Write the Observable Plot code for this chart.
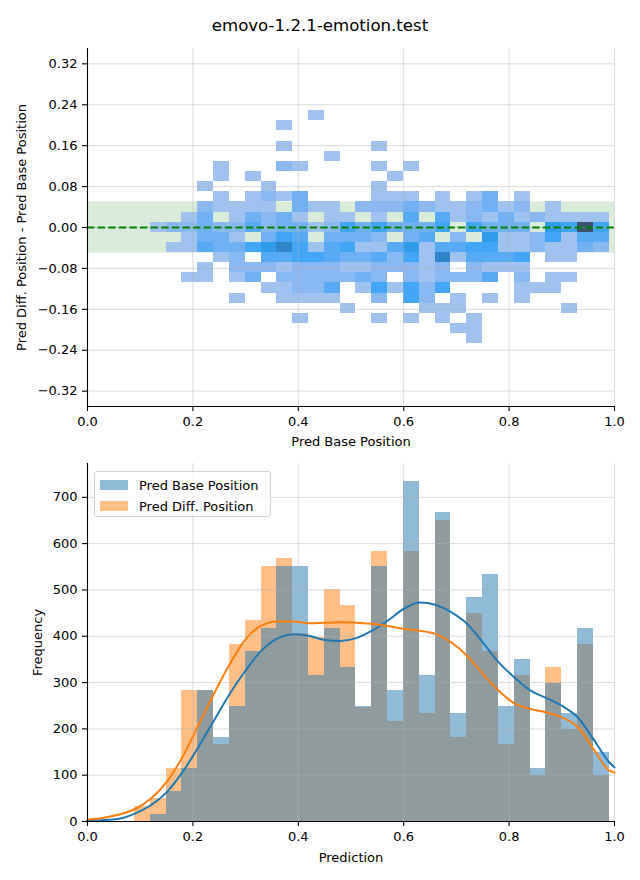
<!DOCTYPE html>
<html>
<head>
<meta charset="utf-8">
<script src="https://cdn.jsdelivr.net/npm/d3@7"></script>
<script src="https://cdn.jsdelivr.net/npm/@observablehq/plot@0.6"></script>
<style>
  body { margin: 0; background: #fff; font-family: "DejaVu Sans", sans-serif; }
  #wrap { position: relative; width: 640px; height: 880px; overflow: hidden; }
  #title { position: absolute; top: 16px; left: 0; width: 640px; text-align: center; font-size: 16.6px; line-height: 20px; color: #000; }
  .panel { position: absolute; left: 0; }
  #legend { position: absolute; left: 94px; top: 471px; width: 175px; height: 44px; border: 1px solid #d0d0d0; border-radius: 3px; background: rgba(255,255,255,0.8); font-size: 13px; color: #000; }
  .li { position: absolute; left: 5px; height: 14px; display: flex; align-items: center; white-space: nowrap; }
  .sw { width: 28px; height: 10px; margin-right: 11px; }
</style>
</head>
<body>
<div id="wrap">
  <div id="title">emovo-1.2.1-emotion.test</div>
  <div id="top" class="panel" style="top:0px"></div>
  <div id="bottom" class="panel" style="top:440px"></div>
  <div id="legend"></div>
</div>
<script>
// ---------------- DATA ----------------
const chartTitle = "emovo-1.2.1-emotion.test";
const seriesNames = ["Pred Base Position", "Pred Diff. Position"];
const seriesColors = ["#1f77b4", "#ff7f0e"];

// shared histogram bins (30 bins)
const binStart = 0.089;
const binWidth = 0.03003;
const nBins = 30;

// bottom panel: histogram counts per bin
const baseCounts = [0, 15, 65, 114, 283, 181, 248, 367, 417, 551, 551, 315, 417, 332, 248,
                    550, 283, 734, 315, 667, 233, 483, 533, 248, 350, 114, 299, 233, 417, 149];
const diffCounts = [32, 50, 114, 283, 283, 167, 383, 434, 551, 568, 405, 398, 501, 466, 247,
                    583, 216, 583, 233, 650, 182, 449, 367, 166, 315, 99, 332, 199, 383, 99];

// bottom panel: KDE curves (scaled to counts)
const kdeX    = [0, 0.03, 0.06, 0.09, 0.12, 0.15, 0.18, 0.21, 0.24, 0.27, 0.30, 0.33, 0.36, 0.39, 0.42, 0.45, 0.48, 0.51,
                 0.54, 0.57, 0.60, 0.63, 0.66, 0.69, 0.72, 0.75, 0.78, 0.81, 0.84, 0.87, 0.90, 0.93, 0.96, 0.99, 1.0];
const kdeBase = [2, 3, 6, 17, 35, 63, 106, 160, 218, 276, 326, 369, 395, 404, 401, 392, 390, 396,
                 412, 434, 459, 473, 468, 452, 427, 387, 344, 311, 283, 267, 250, 225, 178, 128, 117];
const kdeDiff = [4, 8, 15, 27, 49, 85, 139, 207, 276, 340, 394, 423, 432, 432, 428, 429, 430, 429,
                 427, 422, 416, 412, 405, 387, 358, 319, 283, 255, 243, 236, 225, 204, 157, 110, 106];

// top panel: 2D histogram cells [x bin index, y bin index, count]
const yBinOrigin = -0.0093;  // lower edge of y bin 0
const yBinWidth = 0.0198;
const heatCells = [
  [11,11,5],
  [9,10,5],
  [9,8,5],[15,8,5],
  [12,7,5],
  [5,6,5],[9,6,10],[10,6,5],[15,6,5],[17,6,5],
  [5,5,5],[7,5,5],[16,5,5],
  [4,4,5],[8,4,5],[15,4,5],
  [5,3,5],[7,3,5],[8,3,10],[9,3,5],[10,3,16],[15,3,5],[16,3,5],[17,3,5],[19,3,5],[21,3,5],[22,3,16],[24,3,5],
  [4,2,10],[5,2,5],[6,2,5],[7,2,5],[8,2,5],[10,2,16],[11,2,5],[12,2,5],[14,2,10],[15,2,10],[16,2,10],[17,2,16],
  [18,2,10],[19,2,5],[20,2,5],[21,2,10],[22,2,16],[23,2,5],[24,2,10],[26,2,5],
  [3,1,5],[4,1,16],[6,1,5],[7,1,16],[8,1,10],[9,1,16],[10,1,5],[12,1,5],[13,1,5],[15,1,5],[17,1,21],[19,1,21],
  [20,1,5],[21,1,10],[22,1,5],[23,1,16],[24,1,5],[25,1,10],[26,1,5],[27,1,5],[28,1,5],[29,1,5],
  [1,0,5],[2,0,10],[3,0,10],[4,0,16],[5,0,10],[6,0,10],[7,0,21],[8,0,10],[9,0,16],[10,0,16],[11,0,5],[12,0,10],
  [13,0,25],[14,0,16],[15,0,25],[16,0,16],[17,0,16],[18,0,16],[19,0,25],[21,0,25],[22,0,16],[23,0,16],[24,0,16],
  [26,0,33],[27,0,25],[28,0,80],[29,0,25],
  [3,-1,5],[4,-1,16],[5,-1,16],[6,-1,5],[8,-1,16],[9,-1,25],[10,-1,21],[12,-1,16],[13,-1,16],[14,-1,16],[15,-1,10],
  [17,-1,16],[18,-1,21],[20,-1,10],[22,-1,33],[23,-1,5],[24,-1,5],[25,-1,10],[26,-1,25],[27,-1,5],[28,-1,21],[29,-1,21],
  [2,-2,5],[3,-2,5],[4,-2,21],[5,-2,16],[6,-2,16],[7,-2,25],[8,-2,33],[9,-2,45],[10,-2,25],[11,-2,5],[12,-2,21],
  [13,-2,25],[14,-2,5],[15,-2,5],[16,-2,21],[17,-2,33],[18,-2,5],[19,-2,21],[20,-2,21],[21,-2,25],[22,-2,25],
  [23,-2,5],[24,-2,5],[25,-2,10],[26,-2,5],[27,-2,5],[28,-2,16],[29,-2,10],
  [5,-3,5],[6,-3,10],[8,-3,21],[9,-3,21],[10,-3,25],[11,-3,25],[12,-3,21],[13,-3,16],[14,-3,16],[15,-3,21],
  [16,-3,10],[17,-3,25],[18,-3,5],[19,-3,45],[20,-3,5],[21,-3,21],[22,-3,21],[23,-3,21],[24,-3,25],[26,-3,5],[27,-3,5],
  [4,-4,5],[6,-4,10],[7,-4,10],[8,-4,10],[9,-4,5],[10,-4,10],[11,-4,10],[12,-4,10],[13,-4,5],[14,-4,5],[15,-4,10],
  [16,-4,10],[17,-4,10],[18,-4,5],[19,-4,10],[21,-4,10],[22,-4,5],[23,-4,5],[24,-4,5],
  [3,-5,5],[4,-5,5],[6,-5,5],[7,-5,16],[9,-5,10],[10,-5,10],[11,-5,10],[12,-5,10],[13,-5,10],[14,-5,16],[15,-5,10],
  [17,-5,10],[18,-5,5],[19,-5,10],[20,-5,10],[21,-5,10],[22,-5,21],[24,-5,10],[26,-5,5],[27,-5,5],
  [8,-6,5],[9,-6,5],[10,-6,10],[11,-6,10],[12,-6,21],[14,-6,5],[15,-6,25],[16,-6,5],[17,-6,25],[18,-6,10],
  [19,-6,25],[24,-6,5],[25,-6,5],[26,-6,5],
  [6,-7,5],[9,-7,5],[10,-7,5],[11,-7,5],[12,-7,5],[15,-7,10],[17,-7,25],[18,-7,10],[20,-7,5],[22,-7,5],[24,-7,5],
  [13,-8,5],[18,-8,5],[19,-8,5],[20,-8,5],[27,-8,5],
  [10,-9,5],[15,-9,5],[17,-9,5],[19,-9,5],[21,-9,5],
  [20,-10,5],[21,-10,5],
  [21,-11,5]
];
const heatLevels = [5, 10, 16, 21, 25, 33, 45, 80];
const heatColors = ["#9fc2ee", "#8ab8f0", "#70b0f3", "#58aaf4", "#42a5f5", "#2e9ce8", "#2e86c8", "#3a5270"];

// reference band and line (top panel)
const toleranceBand = [-0.05, 0.05];
const referenceLine = [0];

// axes
const xDomain = [0, 1];
const xTicks = [0, 0.2, 0.4, 0.6, 0.8, 1.0];
const yDomainTop = [-0.35, 0.35];
const yTicksTop = [-0.32, -0.24, -0.16, -0.08, 0, 0.08, 0.16, 0.24, 0.32];
const yDomainBottom = [0, 773];
const yTicksBottom = [0, 100, 200, 300, 400, 500, 600, 700];
const xLabelTop = "Pred Base Position";
const yLabelTop = "Pred Diff. Position - Pred Base Position";
const xLabelBottom = "Prediction";
const yLabelBottom = "Frequency";

// ---------------- BUILD ----------------
const xEdges = d3.range(nBins + 1).map(i => binStart + i * binWidth);
const histRows = baseCounts.map((b, i) => ({x1: xEdges[i], x2: xEdges[i + 1], base: b, diff: diffCounts[i]}));
const kdeRows = kdeX.map((x, i) => ({x, base: kdeBase[i], diff: kdeDiff[i]}));
const cells = heatCells.map(([k, r, c]) => ({
  x1: xEdges[k], x2: xEdges[k + 1],
  y1: yBinOrigin + r * yBinWidth, y2: yBinOrigin + (r + 1) * yBinWidth, count: c
}));

const fontStyle = {fontFamily: "DejaVu Sans", fontSize: "13px", color: "black", background: "transparent", overflow: "visible"};
const gridStyle = {stroke: "#b0b0b0", strokeOpacity: 0.45, strokeWidth: 1};

const topPlot = Plot.plot({
  width: 640, height: 440,
  marginTop: 48, marginBottom: 34, marginLeft: 87, marginRight: 26,
  style: fontStyle,
  x: {domain: xDomain},
  y: {domain: yDomainTop},
  color: {type: "linear", domain: heatLevels, range: heatColors},
  marks: [
    Plot.rect([toleranceBand], {y1: d => d[0], y2: d => d[1], fill: "green", fillOpacity: 0.15}),
    Plot.rect(cells, {x1: "x1", x2: "x2", y1: "y1", y2: "y2", fill: "count", shapeRendering: "crispEdges"}),
    Plot.gridX(xTicks, gridStyle),
    Plot.gridY(yTicksTop, gridStyle),
    Plot.ruleY(referenceLine, {stroke: "#008000", strokeWidth: 2, strokeDasharray: "7.4,3.2"}),
    Plot.axisX(xTicks, {tickFormat: d3.format(".1f"), tickSize: 5, tickPadding: 5, label: null, strokeWidth: 1.1}),
    Plot.axisY(yTicksTop, {tickFormat: d3.format(".2f"), tickSize: 5, tickPadding: 5, label: null, strokeWidth: 1.1}),
    Plot.ruleX([xDomain[0]], {stroke: "black", strokeWidth: 1.1}),
    Plot.ruleY([yDomainTop[0]], {stroke: "black", strokeWidth: 1.1}),
    Plot.text([xLabelTop], {frameAnchor: "bottom", dy: 35, text: d => d, textAnchor: "middle", lineAnchor: "middle", fill: "black"}),
    Plot.text([yLabelTop], {frameAnchor: "left", dx: -66, rotate: -90, text: d => d, textAnchor: "middle", lineAnchor: "middle", fill: "black"})
  ]
});
document.getElementById("top").append(topPlot);

const bottomPlot = Plot.plot({
  width: 640, height: 440,
  marginTop: 23, marginBottom: 59, marginLeft: 87, marginRight: 26,
  style: fontStyle,
  x: {domain: xDomain},
  y: {domain: yDomainBottom},
  marks: [
    Plot.rect(histRows, {x1: "x1", x2: "x2", y1: () => 0, y2: "diff", fill: seriesColors[1], fillOpacity: 0.5, shapeRendering: "crispEdges"}),
    Plot.rect(histRows, {x1: "x1", x2: "x2", y1: () => 0, y2: "base", fill: seriesColors[0], fillOpacity: 0.5, shapeRendering: "crispEdges"}),
    Plot.gridX(xTicks, gridStyle),
    Plot.gridY(yTicksBottom, gridStyle),
    Plot.line(kdeRows, {x: "x", y: "base", stroke: seriesColors[0], strokeWidth: 2, curve: "monotone-x"}),
    Plot.line(kdeRows, {x: "x", y: "diff", stroke: seriesColors[1], strokeWidth: 2, curve: "monotone-x"}),
    Plot.axisX(xTicks, {tickFormat: d3.format(".1f"), tickSize: 5, tickPadding: 5, label: null, strokeWidth: 1.1}),
    Plot.axisY(yTicksBottom, {tickFormat: d3.format("d"), tickSize: 5, tickPadding: 5, label: null, strokeWidth: 1.1}),
    Plot.ruleX([xDomain[0]], {stroke: "black", strokeWidth: 1.1}),
    Plot.ruleY([yDomainBottom[0]], {stroke: "black", strokeWidth: 1.1}),
    Plot.text([xLabelBottom], {frameAnchor: "bottom", dy: 36, text: d => d, textAnchor: "middle", lineAnchor: "middle", fill: "black"}),
    Plot.text([yLabelBottom], {frameAnchor: "left", dx: -50, rotate: -90, text: d => d, textAnchor: "middle", lineAnchor: "middle", fill: "black"})
  ]
});
document.getElementById("bottom").append(bottomPlot);

// legend
document.getElementById("title").textContent = chartTitle;
const legend = document.getElementById("legend");
seriesNames.forEach((name, i) => {
  const row = document.createElement("div");
  row.className = "li";
  row.style.top = (i === 0 ? 6 : 27) + "px";
  const sw = document.createElement("div");
  sw.className = "sw";
  sw.style.background = seriesColors[i];
  sw.style.opacity = 0.5;
  const tx = document.createElement("span");
  tx.textContent = name;
  row.append(sw, tx);
  legend.append(row);
});
</script>
</body>
</html>
